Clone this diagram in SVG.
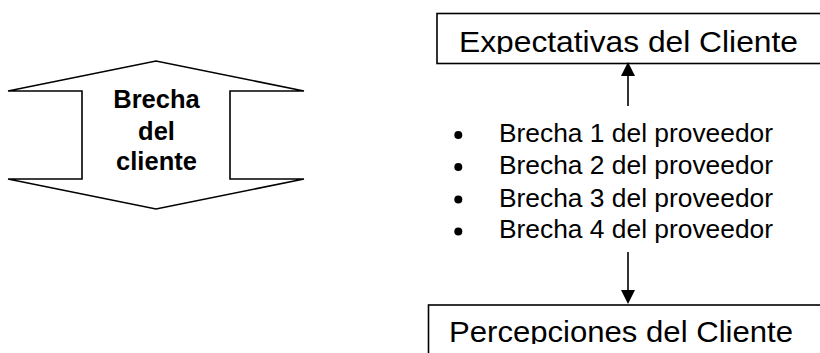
<svg xmlns="http://www.w3.org/2000/svg" width="820" height="353" viewBox="0 0 820 353">
<style>
.shape{fill:#fff;stroke:#000;stroke-width:1.6}
.bold{font-family:"Liberation Sans",Arial,sans-serif;font-weight:bold;font-size:25.5px;fill:#000;text-anchor:middle}
.big{font-family:"Liberation Sans",Arial,sans-serif;font-size:29px;fill:#000}
.item{font-family:"Liberation Sans",Arial,sans-serif;font-size:26px;fill:#000}
.conn{stroke:#000;stroke-width:1.6;fill:none}
</style>
<defs>
<clipPath id="clipTop"><rect x="437" y="13" width="400" height="41"/></clipPath>
<clipPath id="clipBot"><rect x="428" y="305" width="400" height="39"/></clipPath>
</defs>
<rect width="820" height="353" fill="#fff"/>
<g id="brecha-cliente">
<polygon class="shape" points="8,91 156,61 304,91 230,91 230,179 304,179 156,209 8,179 82,179 82,91"/>
<text class="bold" x="156.5" y="107.7">Brecha</text>
<text class="bold" x="156.5" y="139.5">del</text>
<text class="bold" x="156.5" y="170.3">cliente</text>
</g>
<g id="expectativas">
<rect class="shape" x="437" y="13.5" width="400" height="50"/>
<text class="big" x="459" y="52" textLength="339" lengthAdjust="spacingAndGlyphs" clip-path="url(#clipTop)">Expectativas del Cliente</text>
</g>
<g id="brechas-proveedor">
<circle cx="458.3" cy="135" r="4"/>
<circle cx="458.3" cy="167" r="4"/>
<circle cx="458.3" cy="199.5" r="4"/>
<circle cx="458.3" cy="231.5" r="4"/>
<text class="item" x="499" y="142.3" textLength="274" lengthAdjust="spacingAndGlyphs">Brecha 1 del proveedor</text>
<text class="item" x="499" y="174.3" textLength="274" lengthAdjust="spacingAndGlyphs">Brecha 2 del proveedor</text>
<text class="item" x="499" y="206.7" textLength="274" lengthAdjust="spacingAndGlyphs">Brecha 3 del proveedor</text>
<text class="item" x="499" y="238.3" textLength="274" lengthAdjust="spacingAndGlyphs">Brecha 4 del proveedor</text>
</g>
<g id="percepciones">
<rect class="shape" x="428.5" y="305" width="400" height="60"/>
<text class="big" x="449" y="342" textLength="344" lengthAdjust="spacingAndGlyphs" clip-path="url(#clipBot)">Percepciones del Cliente</text>
</g>
<g id="connectors">
<line class="conn" x1="628" y1="106" x2="628" y2="74"/>
<polygon points="628,62 621,76 635,76" fill="#000"/>
<line class="conn" x1="628" y1="252" x2="628" y2="291"/>
<polygon points="628,304 621,290 635,290" fill="#000"/>
</g>
</svg>
